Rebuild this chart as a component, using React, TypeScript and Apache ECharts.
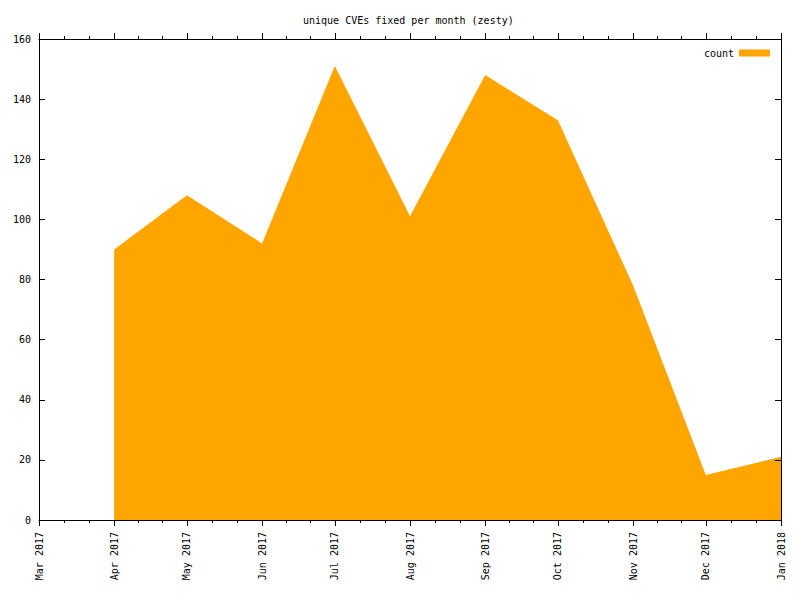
import React, { useEffect, useRef } from "react";
import * as echarts from "echarts";

const chartTitle = "unique CVEs fixed per month (zesty)";
const seriesName = "count";
const dataMonths = ["2017-04", "2017-05", "2017-06", "2017-07", "2017-08", "2017-09", "2017-10", "2017-11", "2017-12", "2018-01"];
const counts = [90, 108, 92, 151, 101, 148, 133, 78, 15, 21];
const tickMonths = ["2017-03", "2017-04", "2017-05", "2017-06", "2017-07", "2017-08", "2017-09", "2017-10", "2017-11", "2017-12", "2018-01"];
const monthNames = ["Jan", "Feb", "Mar", "Apr", "May", "Jun", "Jul", "Aug", "Sep", "Oct", "Nov", "Dec"];
const yMin = 0;
const yMax = 160;
const yStep = 20;

const FONT = "'DejaVu Sans Mono', monospace";
const ORANGE = "#ffa500";

function ts(ym: string): number {
  const [y, m] = ym.split("-").map(Number);
  return Date.UTC(y, m - 1, 1);
}

export default function App() {
  const ref = useRef<HTMLDivElement>(null);
  useEffect(() => {
    if (!ref.current) return;
    const chart = echarts.init(ref.current, undefined, { renderer: "svg" });
    const majors = tickMonths.map(ts);
    const minors: number[] = [];
    for (let i = 0; i < majors.length - 1; i++) {
      const a = majors[i];
      const b = majors[i + 1];
      minors.push(a + (b - a) / 3, a + (2 * (b - a)) / 3);
    }
    const xMin = majors[0];
    const xMax = majors[majors.length - 1];
    const baseX = (pos: string, ticks: number[], len: number, labels: boolean, line: boolean) => ({
      type: "value",
      position: pos,
      min: xMin,
      max: xMax,
      z: 10,
      axisLine: { show: line, onZero: false, lineStyle: { color: "#000", width: 1 } },
      axisTick: { show: true, inside: false, length: len, customValues: ticks, lineStyle: { color: "#000", width: 1 } },
      axisLabel: labels
        ? {
            show: true,
            customValues: majors,
            rotate: 90,
            margin: 12,
            fontFamily: FONT,
            fontSize: 10,
            color: "#000",
            formatter: (v: number) => {
              const d = new Date(v);
              return `${monthNames[d.getUTCMonth()]} ${d.getUTCFullYear()}`;
            },
          }
        : { show: false },
      splitLine: { show: false },
    });
    chart.setOption({
      animation: false,
      backgroundColor: "#fff",
      title: {
        text: chartTitle,
        left: 303,
        top: 15,
        padding: 0,
        textStyle: { fontFamily: FONT, fontSize: 10, fontWeight: "normal", color: "#000" },
      },
      legend: {
        right: 30,
        top: 48,
        padding: 0,
        align: "right",
        itemWidth: 31,
        itemHeight: 7,
        icon: "rect",
        textStyle: { fontFamily: FONT, fontSize: 10, color: "#000" },
        data: [seriesName],
      },
      grid: { left: 39, top: 39, right: 19, bottom: 80, containLabel: false },
      xAxis: [
        baseX("bottom", majors, 6, true, true),
        baseX("bottom", minors, 3, false, false),
        baseX("top", majors, 6, false, true),
        baseX("top", minors, 3, false, false),
      ],
      yAxis: [
        {
          type: "value",
          position: "left",
          min: yMin,
          max: yMax,
          interval: yStep,
          z: 10,
          axisLine: { show: true, onZero: false, lineStyle: { color: "#000", width: 1 } },
          axisTick: { show: true, inside: true, length: 6, lineStyle: { color: "#000" } },
          axisLabel: { margin: 8, fontFamily: FONT, fontSize: 10, color: "#000" },
          splitLine: { show: false },
        },
        {
          type: "value",
          position: "right",
          min: yMin,
          max: yMax,
          interval: yStep,
          z: 10,
          axisLine: { show: true, onZero: false, lineStyle: { color: "#000", width: 1 } },
          axisTick: { show: true, inside: true, length: 6, lineStyle: { color: "#000" } },
          axisLabel: { show: false },
          splitLine: { show: false },
        },
      ],
      series: [
        {
          name: seriesName,
          type: "line",
          xAxisIndex: 0,
          yAxisIndex: 0,
          color: ORANGE,
          symbol: "none",
          showSymbol: false,
          lineStyle: { width: 0, color: ORANGE },
          itemStyle: { color: ORANGE },
          areaStyle: { color: ORANGE, opacity: 1 },
          data: dataMonths.map((m, i) => [ts(m), counts[i]]),
        },
      ],
    });
    return () => chart.dispose();
  }, []);
  return (
    <div
      ref={ref}
      style={{ position: "absolute", left: 0, top: 0, width: 800, height: 600 }}
    />
  );
}
